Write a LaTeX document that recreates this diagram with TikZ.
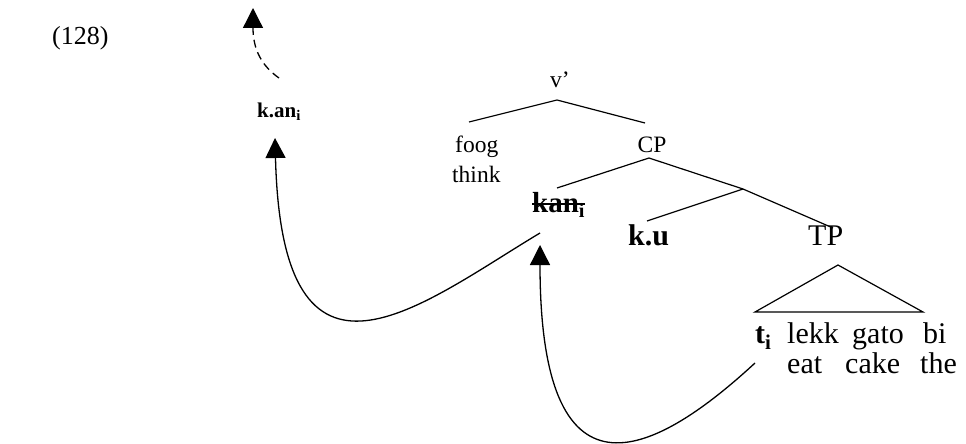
\documentclass[tikz,border=0pt]{standalone}
\usepackage{fontspec}
\setmainfont{Liberation Serif}
\usetikzlibrary{arrows.meta}
\begin{document}
\begin{tikzpicture}[x=1pt,y=-1pt,
  lbl/.style={inner sep=0pt, anchor=base west},
  ctr/.style={inner sep=0pt, anchor=base},
  small/.style={font=\fontsize{23.5}{28}\selectfont},
  big/.style={font=\fontsize{30}{30}\selectfont},
  bigbf/.style={font=\bfseries\fontsize{30}{30}\selectfont},
  branch/.style={line width=1.2pt},
  mv/.style={line width=1.3pt,-{Triangle[width=20pt,length=20pt]}}]
\useasboundingbox (0,0) rectangle (966,444);
% labels
\node[lbl,font=\fontsize{26}{30}\selectfont] (ex) at (52,45) {(128)};
\node[ctr,small] (vp) at (560,87) {v’};
\node[lbl,small] (foog) at (455,152) {foog};
\node[lbl,small] (think) at (452,182) {think};
\node[ctr,small] (cp) at (652,152) {CP};
\node[lbl,font=\bfseries\fontsize{29}{30}\selectfont] (kan) at (532,212) {kan\textsubscript{i}};
\node[lbl,bigbf] (ku) at (628,245) {k.u};
\node[lbl,big] (tp) at (808,245) {TP};
\node[lbl,font=\bfseries\fontsize{21}{24}\selectfont] (kanup) at (257,117) {k.an\textsubscript{i}};
\node[lbl,bigbf] (ti) at (755,343) {t\textsubscript{i}};
\node[lbl,big] (lekk) at (787,343) {lekk};
\node[lbl,big] (gato) at (852,343) {gato};
\node[lbl,big] (bi) at (923,343) {bi};
\node[lbl,big] (eat) at (787,373) {eat};
\node[lbl,big] (cake) at (845,373) {cake};
\node[lbl,big] (the) at (920,373) {the};
% strike-through of kan
\draw[line width=1.8pt] ([yshift=8pt]kan.base west) -- ([yshift=8pt]kan.base east);
% branch points
\coordinate (vb) at (557,100);
\coordinate (fgt) at (469,122);
\coordinate (cpt) at (645,123);
\coordinate (cpb) at (649,158);
\coordinate (kant) at (557,188);
\coordinate (cbar) at (743,189);
\coordinate (kut) at (647,221);
\coordinate (tpt) at (833,228);
\coordinate (tria) at (838,265);
\coordinate (tril) at (755,312);
\coordinate (trir) at (923,312);
\draw[branch] (fgt) -- (vb) -- (cpt);
\draw[branch] (kant) -- (cpb) -- (cbar) -- (tpt);
\draw[branch] (cbar) -- (kut);
\draw[branch] (tril) -- (tria) -- (trir) -- cycle;
% movement arrows
\coordinate (a1s) at (540,233);
\coordinate (a1e) at (275,138);
\coordinate (a2s) at (755,363);
\coordinate (a2e) at (540,245);
\coordinate (a3s) at (279,78);
\coordinate (a3e) at (253,8);
\draw[mv] (a1s) .. controls (420,305) and (282,420) .. (a1e);
\draw[mv] (a2s) .. controls (650,460) and (540,510) .. (a2e);
\draw[mv,dash pattern=on 8pt off 5pt] (a3s) .. controls (262,66) and (253,50) .. (a3e);
\end{tikzpicture}
\end{document}
